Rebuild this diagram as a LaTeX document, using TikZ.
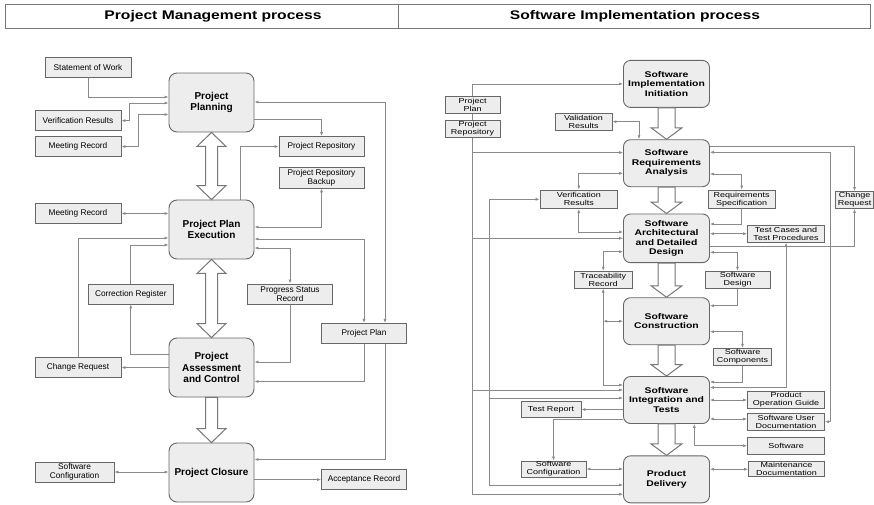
\documentclass[tikz,border=0pt]{standalone}
\usepackage{fontspec}
\setmainfont{Liberation Sans}
\newfontfamily\wide[FakeStretch=1.25]{Liberation Sans}
\usetikzlibrary{arrows.meta,calc}
\definecolor{boxc}{HTML}{EDEDED}
\definecolor{bordc}{HTML}{676767}
\definecolor{linec}{HTML}{8A8A8A}
\definecolor{blkc}{HTML}{777777}
\pgfdeclarelayer{bg}
\pgfsetlayers{bg,main}

% hollow block arrow, one head (from above to below)
\newcommand\blkone[5]{%
  \draw[blk] let \p1=(#1.south), \p2=(#2.north) in
    (\x1-#3,\y1) -- (\x1+#3,\y1) -- (\x1+#3,\y2+#5) -- (\x1+#4,\y2+#5) -- (\x1,\y2)
    -- (\x1-#4,\y2+#5) -- (\x1-#3,\y2+#5) -- cycle;}
% hollow block arrow, heads at both ends
\newcommand\blktwo[5]{%
  \draw[blk] let \p1=(#1.south), \p2=(#2.north) in
    (\x1,\y1) -- (\x1+#4,\y1-#5) -- (\x1+#3,\y1-#5) -- (\x1+#3,\y2+#5) -- (\x1+#4,\y2+#5)
    -- (\x1,\y2) -- (\x1-#4,\y2+#5) -- (\x1-#3,\y2+#5) -- (\x1-#3,\y1-#5) -- (\x1-#4,\y1-#5) -- cycle;}

\tikzset{
  lbig/.style={draw=bordc, fill=boxc, line width=0.9pt, rounded corners=8pt,
    minimum width=85pt, minimum height=59pt, inner sep=1pt, align=center,
    font=\bfseries\fontsize{10}{11.5}\selectfont},
  lsmall/.style={draw=bordc, fill=boxc, line width=0.8pt,
    minimum width=86pt, minimum height=20pt, inner sep=1pt, align=center,
    font=\fontsize{8.3}{9.3}\selectfont},
  rbig/.style={draw=bordc, fill=boxc, line width=0.9pt, rounded corners=7pt,
    minimum width=86pt, minimum height=47pt, inner sep=1pt, align=center,
    font=\wide\bfseries\fontsize{8.3}{9.6}\selectfont},
  rsmall/.style={draw=bordc, fill=boxc, line width=0.8pt,
    minimum width=77pt, minimum height=17pt, inner sep=0.5pt, align=center,
    font=\wide\fontsize{7.2}{7.8}\selectfont},
  ln/.style={draw=linec, line width=0.7pt},
  arr/.style={ln, -{Latex[length=4pt,width=3pt]}},
  arrs/.style={ln, {Latex[length=4pt,width=3pt]}-{Latex[length=4pt,width=3pt]}},
  blk/.style={draw=blkc, fill=white, line width=1pt, line join=miter},
  hdr/.style={font=\wide\bfseries\fontsize{12.5}{14}\selectfont, inner sep=0pt},
}

\begin{document}
\begin{tikzpicture}[x=1pt,y=-1pt]
\useasboundingbox (0,0) rectangle (874,504);

% ---------- header row ----------
\draw[draw=blkc, line width=1pt] (5,4) rectangle (870,28);
\draw[draw=blkc, line width=1pt] (398,4) -- (398,28);
\node[hdr] (hdl) at (213,16) {Project Management process};
\node[hdr] (hdr) at (635,16) {Software Implementation process};

% ---------- project management process ----------
\node[lsmall] (sow) at (88,67.5) {Statement of Work};
\node[lbig] (plan) at (211.5,102.5) {Project\\Planning};
\node[lsmall] (vr) at (78,120.6) {Verification Results};
\node[lsmall] (mr1) at (78,146.5) {Meeting Record};
\node[lsmall, minimum width=85pt] (prep) at (321.5,146.5) {Project Repository};
\node[lsmall, minimum width=85pt, minimum height=21pt] (prb) at (321.5,177.5) {Project Repository\\Backup};
\node[lsmall] (mr2) at (78,213.5) {Meeting Record};
\node[lbig] (exec) at (211.5,229.5) {Project Plan\\Execution};
\node[lsmall, minimum width=85pt] (corr) at (130.8,294) {Correction Register};
\node[lsmall, minimum width=85pt] (psr) at (290,294) {Progress Status\\Record};
\node[lsmall, minimum width=85pt] (pplan) at (364,333.3) {Project Plan};
\node[lbig] (assess) at (211.5,367.5) {Project\\Assessment\\and Control};
\node[lsmall] (chg) at (78,367.6) {Change Request};
\node[lbig] (clos) at (211.5,472.5) {Project Closure};
\node[lsmall, minimum width=79pt] (swc) at (74.5,472) {Software\\Configuration};
\node[lsmall, minimum width=85pt] (acc) at (364,479.6) {Acceptance Record};

\blktwo{plan}{exec}{6pt}{14.5pt}{14pt}
\blktwo{exec}{assess}{6pt}{14.5pt}{14pt}
\blkone{assess}{clos}{6pt}{14.5pt}{14pt}

\begin{pgfonlayer}{bg}
\draw[arr] (sow.south) |- ([yshift=5.5pt]plan.west);
\draw[arrs] (vr.east) -- ++(8,0) |- ([yshift=-0.5pt]plan.west);
\draw[arrs] (mr1.east) -- ++(17,0) |- ([yshift=-12pt]plan.west);
\draw[arr] ([yshift=-16.5pt]plan.east) -| (prep.north);
\draw[arr] ([xshift=28.5pt]exec.north) |- (prep.west);
\draw[arrs] (prb.south) |- ([yshift=2.5pt]exec.east);
\draw[arrs] ([yshift=-9.5pt]exec.east) -| (pplan.north);
\draw[arrs] ([yshift=-18.5pt]exec.east) -| (psr.north);
\draw[arr] (psr.south) |- ([yshift=5.5pt]assess.east);
\draw[arr] (pplan.south) |- ([yshift=-14pt]assess.east);
\draw[arrs] ([xshift=21pt]pplan.north) |- ([yshift=0.5pt]plan.east);
\draw[arr] ([xshift=21pt]pplan.south) |- ([yshift=13pt]clos.east);
\draw[arr] (acc.west -| clos.east) -- (acc.west);
\draw[arrs] (swc.east) -- (swc.east -| clos.west);
\draw[arrs] (mr2.east) -- (mr2.east -| exec.west);
\draw[arr] (corr.north) |- ([yshift=-15.5pt]exec.west);
\draw[arr] ([yshift=13.5pt]assess.west) -| (corr.south);
\draw[arr] (chg.north) |- ([yshift=-8.5pt]exec.west);
\draw[arr] (assess.west) -- (assess.west -| chg.east);
\end{pgfonlayer}

% ---------- software implementation process ----------
\node[rbig] (init) at (666.5,83.9) {Software\\Implementation\\Initiation};
\node[rsmall, minimum width=55pt] (rpp) at (472.5,105) {Project\\Plan};
\node[rsmall, minimum width=55pt] (rrep) at (472.5,128.7) {Project\\Repository};
\node[rsmall, minimum width=57pt] (val) at (583.5,121.7) {Validation\\Results};
\node[rbig] (req) at (666.5,163.2) {Software\\Requirements\\Analysis};
\node[rsmall, minimum width=77.6pt, minimum height=18.6pt] (rver) at (578.8,199.3) {Verification\\Results};
\node[rsmall, minimum width=67.5pt, minimum height=18.6pt] (rspec) at (741.7,199.3) {Requirements\\Specification};
\node[rsmall, minimum width=38pt] (rchg) at (854.5,200) {Change\\Request};
\node[rbig, minimum height=48.7pt, font=\wide\bfseries\fontsize{8.3}{9.3}\selectfont] (arch) at (666.5,238.3) {Software\\Architectural\\and Detailed\\Design};
\node[rsmall] (tc) at (786,233.7) {Test Cases and\\Test Procedures};
\node[rsmall, minimum width=57.5pt] (trace) at (603.2,279.7) {Traceability\\Record};
\node[rsmall, minimum width=65pt] (sdes) at (737.5,279.7) {Software\\Design};
\node[rbig] (cons) at (666.5,321.2) {Software\\Construction};
\node[rsmall, minimum width=58.4pt] (scomp) at (742.5,356.7) {Software\\Components};
\node[rbig] (integ) at (666.5,400) {Software\\Integration and\\Tests};
\node[rsmall] (pog) at (786,400) {Product\\Operation Guide};
\node[rsmall] (sud) at (786,421.7) {Software User\\Documentation};
\node[rsmall, minimum width=60pt, minimum height=15.7pt] (trep) at (551,409.5) {Test Report};
\node[rsmall] (soft) at (786,445.7) {Software};
\node[rsmall, minimum width=65pt, minimum height=16pt] (rswc) at (553.5,469) {Software\\Configuration};
\node[rbig] (deliv) at (666.5,479.3) {Product\\Delivery};
\node[rsmall, minimum width=76pt, minimum height=15pt] (maint) at (786.5,469.2) {Maintenance\\Documentation};
\coordinate (bb) at (489,300);

\blkone{init}{req}{8.5pt}{15.5pt}{11.5pt}
\blkone{req}{arch}{8.5pt}{15.5pt}{11.5pt}
\blkone{arch}{cons}{8.5pt}{15.5pt}{11.5pt}
\blkone{cons}{integ}{8.5pt}{15.5pt}{11.5pt}
\blkone{integ}{deliv}{8.5pt}{15.5pt}{11.5pt}

\begin{pgfonlayer}{bg}
% common inputs on the left
\draw[ln] (rpp.south) -- (rrep.north);
\draw[arr] (rpp.north) |- (init.west);
\draw[arr] (rrep.south) |- ([yshift=10.7pt]req.west);
\draw[arr] (rrep.south) |- (arch.west);
\draw[arr] (rrep.south) |- ([yshift=10pt]integ.west);
\draw[arr] (rrep.south) |- ([yshift=-15pt]deliv.west);
\draw[arr] ([yshift=2pt]integ.west -| bb) |- (rver.west);
\draw[arr] ([yshift=2pt]integ.west -| bb) -- ([yshift=2pt]integ.west);
\draw[arr] ([yshift=2pt]integ.west -| bb) |- ([yshift=-5.7pt]deliv.west);
% requirements analysis
\draw[arrs] (val.east) -| ([xshift=-27.5pt]req.north);
\draw[arrs] (rver.north) |- ([yshift=-10.1pt]req.west);
\draw[arrs] (rspec.north) |- ([yshift=-10.8pt]req.east);
\draw[arr] ([yshift=17pt]req.east) -| (rchg.north);
\draw[arrs] (sud.east) -- ++(5,0) |- ([yshift=10.9pt]req.east);
% architectural and detailed design
\draw[arrs] (rver.south) |- ([yshift=6.3pt]arch.west);
\draw[arr] (rspec.south) |- ([yshift=14.3pt]arch.east);
\draw[arr] ([yshift=-7.7pt]arch.east) -| (rchg.south);
\draw[arrs] (tc.west -| arch.east) -- (tc.west);
\draw[arrs] (sdes.north) |- ([yshift=-14pt]arch.east);
\draw[arrs] (trace.north) |- ([yshift=-13.4pt]arch.west);
% construction
\draw[arr] (sdes.south) |- ([yshift=15.5pt]cons.east);
\draw[arrs] (trace.south |- cons.west) -- (cons.west);
\draw[arrs] ([yshift=-10.5pt]cons.east) -| (scomp.north);
% integration and tests
\draw[arrs] (trace.south) |- ([yshift=15pt]integ.west);
\draw[arr] (scomp.south) |- ([yshift=18pt]integ.east);
\draw[arrs] (tc.south) |- ([yshift=12.5pt]integ.east);
\draw[arrs] (pog.west -| integ.east) -- (pog.west);
\draw[arrs] ([yshift=-19pt]integ.east) -- ([yshift=-19pt]integ.east -| sud.west);
\draw[arrs] ([xshift=27.8pt]integ.south) |- (soft.west);
\draw[arr] (trep.east -| integ.west) -- (trep.east);
\draw[arr] ([yshift=-19pt]integ.west) -| (rswc.north);
% product delivery
\draw[arrs] (rswc.east) -- (rswc.east -| deliv.west);
\draw[arrs] (maint.west -| deliv.east) -- (maint.west);
\end{pgfonlayer}
\end{tikzpicture}
\end{document}
